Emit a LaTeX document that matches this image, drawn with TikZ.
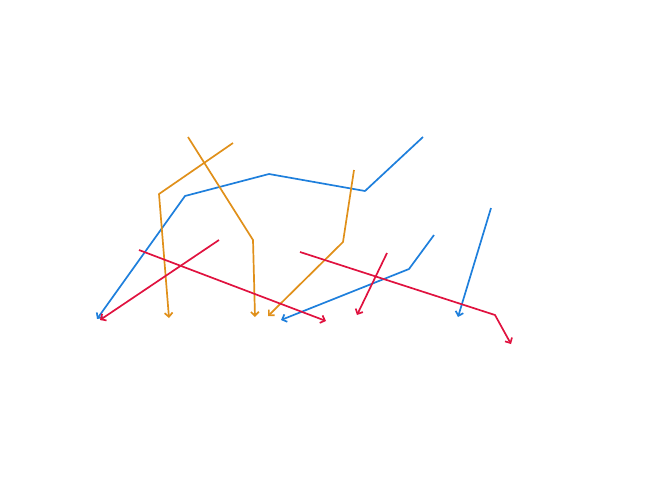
\documentclass[tikz,border=0pt]{standalone}
\usepackage{tikz}
\usetikzlibrary{arrows.meta}

\definecolor{lineblue}{HTML}{1E7FDC}
\definecolor{lineorange}{HTML}{E0901A}
\definecolor{linered}{HTML}{E0123F}

\begin{document}
\begin{tikzpicture}[
  x=1pt, y=-1pt,
  route/.style={line width=1.7pt, line join=round, -{Straight Barb[length=4pt,width=8pt]}},
  bluerun/.style={route, lineblue},
  orangerun/.style={route, lineorange},
  redrun/.style={route, linered}
]
\useasboundingbox (0,0) rectangle (650,480);

% blue paths
\coordinate (b1a) at (423,137);
\coordinate (b1b) at (365,191);
\coordinate (b1c) at (269,174);
\coordinate (b1d) at (185,196);
\coordinate (b1e) at (97,319);
\coordinate (b2a) at (434,235);
\coordinate (b2b) at (409,269);
\coordinate (b2c) at (281,320);
\coordinate (b3a) at (491,208);
\coordinate (b3b) at (458,317);

% orange paths
\coordinate (o1a) at (233,143);
\coordinate (o1b) at (159,194);
\coordinate (o1c) at (169,318);
\coordinate (o2a) at (188,137);
\coordinate (o2b) at (253,240);
\coordinate (o2c) at (255,317);
\coordinate (o3a) at (354,170);
\coordinate (o3b) at (343,242);
\coordinate (o3c) at (268,316);

% red paths
\coordinate (r1a) at (219,240);
\coordinate (r1b) at (100,320);
\coordinate (r2a) at (139,250);
\coordinate (r2b) at (326,321);
\coordinate (r3a) at (387,253);
\coordinate (r3b) at (357,315);
\coordinate (r4a) at (300,252);
\coordinate (r4b) at (495,315);
\coordinate (r4c) at (511,344);

\draw[bluerun] (b1a) -- (b1b) -- (b1c) -- (b1d) -- (b1e);
\draw[bluerun] (b2a) -- (b2b) -- (b2c);
\draw[bluerun] (b3a) -- (b3b);

\draw[orangerun] (o1a) -- (o1b) -- (o1c);
\draw[orangerun] (o2a) -- (o2b) -- (o2c);
\draw[orangerun] (o3a) -- (o3b) -- (o3c);

\draw[redrun] (r1a) -- (r1b);
\draw[redrun] (r2a) -- (r2b);
\draw[redrun] (r3a) -- (r3b);
\draw[redrun] (r4a) -- (r4b) -- (r4c);

\end{tikzpicture}
\end{document}
